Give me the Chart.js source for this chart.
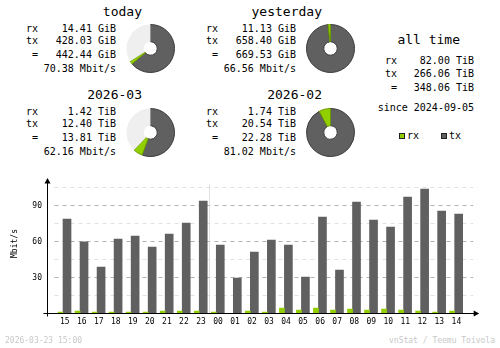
<!DOCTYPE html>
<html>
<head>
<meta charset="utf-8">
<script src="https://cdn.jsdelivr.net/npm/chart.js@4.4.1/dist/chart.umd.min.js"></script>
<style>
  html, body { margin: 0; padding: 0; background: #fff; }
  #page { position: relative; width: 500px; height: 348px; overflow: hidden; font-family: "DejaVu Sans Mono", monospace; color: #000; }
  .txt { position: absolute; white-space: pre; }
  canvas { position: absolute; }
  .sq { position: absolute; width: 4px; height: 4px; border: 1px solid #202020; }
</style>
</head>
<body>
<div id="page">
  <canvas id="hourly" width="500" height="165" style="left:0;top:170px"></canvas>
</div>
<script>
// summary blocks: today, yesterday, this month, last month
const periodTitles = ['today', 'yesterday', '2026-03', '2026-02'];
const periodRx = [14.41, 11.13, 1.42, 1.74];
const periodTx = [428.03, 658.40, 12.40, 20.54];
const periodTotal = [442.44, 669.53, 13.81, 22.28];
const periodUnit = ['GiB', 'GiB', 'TiB', 'TiB'];
const periodRate = [70.38, 66.56, 62.16, 81.02];

// all time
const allRx = '82.00 TiB';
const allTx = '266.06 TiB';
const allTotal = '348.06 TiB';
const allSince = '2024-09-05';

// hourly average rate, Mbit/s
const hours = ['15', '16', '17', '18', '19', '20', '21', '22', '23', '00', '01', '02',
               '03', '04', '05', '06', '07', '08', '09', '10', '11', '12', '13', '14'];
const rxRate = [1.6, 2.4, 1.6, 1.6, 1.6, 1.6, 2.4, 2.4, 2.4, 1.6, 0.5, 2.4,
                1.6, 5.0, 3.3, 5.0, 3.3, 4.2, 3.3, 4.2, 3.3, 2.4, 1.6, 2.4];
const txRate = [79.2, 60.2, 39.2, 62.5, 65.0, 55.8, 66.7, 75.8, 94.2, 57.5, 30.0, 51.7,
                61.7, 57.5, 30.8, 80.8, 36.7, 93.3, 78.3, 72.5, 97.5, 104.2, 85.8, 83.3];
const yTicks = [30, 60, 90];

const footerLeft = '2026-03-23 15:00';
const footerRight = 'vnStat / Teemu Toivola';

const RX = '#92cf00', TX = '#606060', PIE_BG = '#efefef';
const page = document.getElementById('page');

function put(text, x, y, opts) {
    opts = opts || {};
    var size = opts.size || 10, lh = Math.round(size * 1.4);
    var el = document.createElement('div');
    el.className = 'txt';
    el.textContent = text;
    el.style.fontSize = size + 'px';
    el.style.lineHeight = lh + 'px';
    el.style.top = (y - lh / 2) + 'px';
    if (opts.align === 'right') {
        el.style.right = (500 - x) + 'px';
    } else if (opts.align === 'center') {
        el.style.left = x + 'px';
        el.style.transform = 'translateX(-50%)';
    } else {
        el.style.left = x + 'px';
    }
    if (opts.color) el.style.color = opts.color;
    page.appendChild(el);
    return el;
}

// summary text + pies
periodTitles.forEach(function(title, i) {
    var dx = (i % 2) * 180, dy = Math.floor(i / 2) * 83;
    var unit = ' ' + periodUnit[i];
    put(title, 142 + dx, 12 + dy, {size: 13, align: 'right'});
    put('rx', 26 + dx, 29 + dy);
    put(periodRx[i].toFixed(2) + unit, 116 + dx, 29 + dy, {align: 'right'});
    put('tx', 26 + dx, 41 + dy);
    put(periodTx[i].toFixed(2) + unit, 116 + dx, 41 + dy, {align: 'right'});
    put(' =', 26 + dx, 55 + dy);
    put(periodTotal[i].toFixed(2) + unit, 116 + dx, 55 + dy, {align: 'right'});
    put(periodRate[i].toFixed(2) + ' Mbit/s', 116 + dx, 69 + dy, {align: 'right'});

    var cv = document.createElement('canvas');
    cv.width = 49; cv.height = 49;
    cv.style.left = (126 + dx) + 'px';
    cv.style.top = (24 + (dy ? 84 : 0)) + 'px';
    page.appendChild(cv);

    var full = Math.max(periodTotal[i], periodTotal[i ^ 1]);
    new Chart(cv, {
        type: 'doughnut',
        data: {
            labels: ['tx', 'rx', ''],
            datasets: [{
                data: [periodTx[i], periodRx[i], full - periodTotal[i]],
                backgroundColor: [TX, RX, PIE_BG],
                borderColor: ['#3a3a3a', '#6a9800', PIE_BG],
                borderWidth: [1, 1, 0]
            }]
        },
        options: {
            responsive: false,
            animation: false,
            cutout: '28%',
            plugins: {legend: {display: false}, tooltip: {enabled: false}}
        }
    });
});

// all time block
put('all time', 428.7, 40, {size: 13, align: 'center'});
put('rx', 385, 61);
put(allRx, 474, 61, {align: 'right'});
put('tx', 385, 74);
put(allTx, 474, 74, {align: 'right'});
put(' =', 385, 88);
put(allTotal, 474, 88, {align: 'right'});
put('since ' + allSince, 474, 108, {align: 'right'});

// legend
[[RX, 'rx', 399], [TX, 'tx', 441]].forEach(function(l) {
    var sq = document.createElement('div');
    sq.className = 'sq';
    sq.style.background = l[0];
    sq.style.left = l[2] + 'px';
    sq.style.top = '133px';
    page.appendChild(sq);
    put(l[1], l[2] + 8, 136);
});

// axis title and footer
var yTitle = put('Mbit/s', 14, 243, {size: 8});
yTitle.style.transform = 'translate(-50%, 0) rotate(-90deg)';
put(footerLeft, 5, 340, {size: 8, color: '#c8c8c8'});
put(footerRight, 495, 340, {size: 8, color: '#c8c8c8', align: 'right'});

const vnstatAxes = {
    id: 'vnstatAxes',
    beforeDatasetsDraw(chart) {
        const {ctx, chartArea, scales: {x, y}} = chart;
        ctx.save();
        ctx.lineWidth = 1;
        ctx.setLineDash([4, 4]);
        for (let v = 15; v <= y.max; v += 15) {
            const py = Math.round(y.getPixelForValue(v)) - 0.5;
            ctx.strokeStyle = v % 30 === 0 ? '#b0b0b0' : '#e0e0e0';
            ctx.beginPath();
            ctx.moveTo(chartArea.left, py);
            ctx.lineTo(chartArea.right + 10, py);
            ctx.stroke();
        }
        // day change
        ctx.setLineDash([]);
        const d = hours.indexOf('00');
        const sx = Math.round((x.getPixelForValue(d - 1) + x.getPixelForValue(d)) / 2 + 1.5) + 0.5;
        ctx.strokeStyle = '#e0e0e0';
        ctx.beginPath();
        ctx.moveTo(sx, chartArea.top - 4);
        ctx.lineTo(sx, chartArea.bottom);
        ctx.stroke();
        ctx.restore();
    },
    afterDatasetsDraw(chart) {
        const {ctx, chartArea, scales: {y}} = chart;
        const ax = chartArea.left - 7, ay = Math.round(y.getPixelForValue(0)) - 0.5;
        ctx.save();
        ctx.strokeStyle = '#000';
        ctx.fillStyle = '#000';
        ctx.lineWidth = 1;
        ctx.beginPath();
        ctx.moveTo(ax, chartArea.top - 6);
        ctx.lineTo(ax, ay + 3);
        ctx.moveTo(ax - 4, ay);
        ctx.lineTo(chartArea.right + 12, ay);
        ctx.stroke();
        ctx.beginPath();
        ctx.moveTo(ax, chartArea.top - 10);
        ctx.lineTo(ax - 3, chartArea.top - 4.5);
        ctx.lineTo(ax + 3, chartArea.top - 4.5);
        ctx.closePath();
        ctx.fill();
        ctx.beginPath();
        ctx.moveTo(chartArea.right + 16, ay);
        ctx.lineTo(chartArea.right + 10.5, ay - 3);
        ctx.lineTo(chartArea.right + 10.5, ay + 3);
        ctx.closePath();
        ctx.fill();
        ctx.restore();
    }
};

const tickFont = {family: 'DejaVu Sans Mono', size: 8};

new Chart(document.getElementById('hourly'), {
    type: 'bar',
    data: {
        labels: hours,
        datasets: [{
            label: 'rx',
            data: rxRate,
            backgroundColor: RX,
            barThickness: 5
        }, {
            label: 'tx',
            data: txRate,
            backgroundColor: TX,
            barThickness: 8
        }]
    },
    options: {
        responsive: false,
        animation: false,
        layout: {padding: {left: 0, right: 36.8, top: 18, bottom: 0}},
        plugins: {legend: {display: false}, tooltip: {enabled: false}},
        scales: {
            x: {
                grid: {display: false, drawTicks: false},
                border: {display: false},
                ticks: {font: tickFont, color: '#000', padding: 3, labelOffset: 1.7, maxRotation: 0, autoSkip: false},
                afterFit: function(s) { s.height = 21; }
            },
            y: {
                min: 0,
                max: 105,
                grid: {display: false, drawTicks: false},
                border: {display: false},
                ticks: {
                    stepSize: 15,
                    font: tickFont,
                    color: '#000',
                    padding: 12.5,
                    callback: function(v) { return yTicks.indexOf(v) >= 0 ? v : ''; }
                },
                afterFit: function(s) { s.width = 54.5; }
            }
        }
    },
    plugins: [vnstatAxes]
});
</script>
</body>
</html>
